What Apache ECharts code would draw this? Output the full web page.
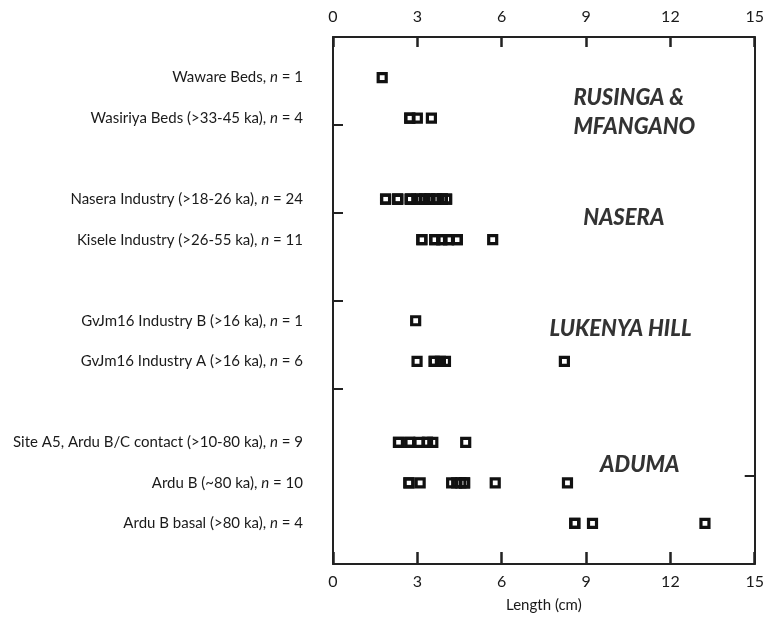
<!DOCTYPE html>
<html>
<head>
<meta charset="utf-8">
<script src="https://cdn.jsdelivr.net/npm/echarts@6/dist/echarts.min.js"></script>
<style>
html,body{margin:0;padding:0;background:#fff;}
#main{width:767px;height:618px;}
</style>
</head>
<body>
<div id="main"></div>
<script>
// ---- data ----
var groupNames = ['RUSINGA &\nMFANGANO', 'NASERA', 'LUKENYA HILL', 'ADUMA'];
var groupRows = [
  ['Waware Beds', 'Wasiriya Beds (>33-45 ka)'],
  ['Nasera Industry (>18-26 ka)', 'Kisele Industry (>26-55 ka)'],
  ['GvJm16 Industry B (>16 ka)', 'GvJm16 Industry A (>16 ka)'],
  ['Site A5, Ardu B/C contact (>10-80 ka)', 'Ardu B (~80 ka)', 'Ardu B basal (>80 ka)']
];
var waware   = [1.75];
var wasiriya = [2.73, 2.73, 3.0, 3.5];
var nasera   = [1.87, 1.87, 2.30, 2.30, 2.30, 2.75, 2.75, 2.75, 2.98, 3.12, 3.12, 3.26,
                3.26, 3.44, 3.44, 3.44, 3.68, 3.68, 3.68, 3.89, 3.89, 3.89, 4.04, 4.04];
var kisele   = [3.16, 3.16, 3.62, 3.62, 3.87, 3.87, 4.11, 4.11, 4.42, 4.42, 5.68];
var gvjmB    = [2.94];
var gvjmA    = [2.99, 3.6, 3.6, 3.82, 4.0, 8.23];
var siteA5   = [2.33, 2.33, 2.73, 2.73, 3.06, 3.36, 3.36, 3.55, 4.72];
var arduB    = [2.7, 2.7, 3.1, 4.22, 4.4, 4.55, 4.68, 4.68, 5.77, 8.34];
var arduBasal= [8.6, 8.6, 9.23, 13.23];
var rowValues = [waware, wasiriya, nasera, kisele, gvjmB, gvjmA, siteA5, arduB, arduBasal];
var xTickValues = [0, 3, 6, 9, 12, 15];

// ---- build rows (one empty slot between groups) ----
var rowNames = [], rowPos = [], groupCenter = [];
var pos = 0;
groupRows.forEach(function (rows) {
  var first = pos + 1;
  rows.forEach(function (r) { pos += 1; rowNames.push(r); rowPos.push(pos); });
  groupCenter.push((first + pos) / 2);
  pos += 1;
});
var yMax = pos; // 13
var yStep = yMax / 6;
var leftTicks = [1, 2, 3, 4].map(function (k) { return k * yStep; });
var rightTicks = [5 * yStep];

function rowLabel(v) {
  for (var i = 0; i < rowPos.length; i++) {
    if (Math.abs(rowPos[i] - v) < 1e-6) {
      return rowNames[i] + ', {i|n} = ' + rowValues[i].length;
    }
  }
  return '';
}

var FONT = 'Lato';
var TXT = '#1a1a1a';
var series = rowValues.map(function (vals, i) {
  return {
    type: 'scatter',
    name: rowNames[i],
    xAxisIndex: 0, yAxisIndex: 0,
    symbol: 'rect',
    symbolSize: 8,
    itemStyle: { color: 'rgba(0,0,0,0)', borderColor: '#111', borderWidth: 3.2, opacity: 1 },
    emphasis: { disabled: true },
    data: vals.map(function (v) { return [v, rowPos[i]]; }),
    z: 3
  };
});

// group labels, anchored in data space
var groupAnchorX = [8.55, 8.9, 7.7, 9.5];
var groupAnchorDy = [0.35, -0.03, -0.29, -0.44];
series.push({
  type: 'scatter',
  xAxisIndex: 0, yAxisIndex: 0,
  symbolSize: 0,
  silent: true,
  data: groupNames.map(function (n, g) { return [groupAnchorX[g], groupCenter[g] + groupAnchorDy[g]]; }),
  label: {
    show: true,
    position: 'right',
    distance: 0,
    formatter: function (p) { return groupNames[p.dataIndex]; },
    fontFamily: FONT,
    fontSize: 22,
    fontWeight: 900,
    fontStyle: 'italic',
    color: '#000',
    lineHeight: 29,
    align: 'left'
  },
  z: 4
});

var chart = echarts.init(document.getElementById('main'), null, { renderer: 'canvas' });
chart.setOption({
  animation: false,
  grid: { left: 333, right: 10, top: 37, bottom: 53 },
  xAxis: [
    {
      type: 'value', position: 'bottom', min: 0, max: 15, interval: 3,
      axisLine: { show: true, onZero: false, lineStyle: { color: '#222', width: 2 } },
      axisTick: { show: true, inside: true, length: 12, lineStyle: { color: '#222', width: 2.5 } },
      axisLabel: { fontFamily: FONT, fontSize: 16, color: TXT, margin: 10 },
      splitLine: { show: false },
      name: 'Length (cm)', nameLocation: 'middle', nameGap: 34,
      nameTextStyle: { fontFamily: FONT, fontSize: 15, color: TXT }
    },
    {
      type: 'value', position: 'top', min: 0, max: 15, interval: 3,
      axisLine: { show: true, onZero: false, lineStyle: { color: '#222', width: 2 } },
      axisTick: { show: true, inside: true, length: 10, lineStyle: { color: '#222', width: 2.5 } },
      axisLabel: { fontFamily: FONT, fontSize: 16, color: TXT, margin: 12 },
      splitLine: { show: false }
    }
  ],
  yAxis: [
    {
      type: 'value', position: 'left', min: 0, max: yMax, inverse: true,
      axisLine: { show: true, onZero: false, lineStyle: { color: '#222', width: 2 } },
      axisTick: { show: true, inside: true, length: 10, lineStyle: { color: '#222', width: 2 }, customValues: leftTicks },
      axisLabel: {
        show: true, customValues: rowPos, formatter: rowLabel, margin: 30,
        fontFamily: FONT, fontSize: 15, color: TXT,
        rich: { i: { fontFamily: FONT, fontSize: 15, fontStyle: 'italic', color: TXT } }
      },
      splitLine: { show: false }
    },
    {
      type: 'value', position: 'right', min: 0, max: yMax, inverse: true,
      axisLine: { show: true, onZero: false, lineStyle: { color: '#222', width: 2 } },
      axisTick: { show: true, inside: true, length: 10, lineStyle: { color: '#222', width: 2 }, customValues: rightTicks },
      axisLabel: { show: false },
      splitLine: { show: false }
    }
  ],
  series: series
});
</script>
</body>
</html>
